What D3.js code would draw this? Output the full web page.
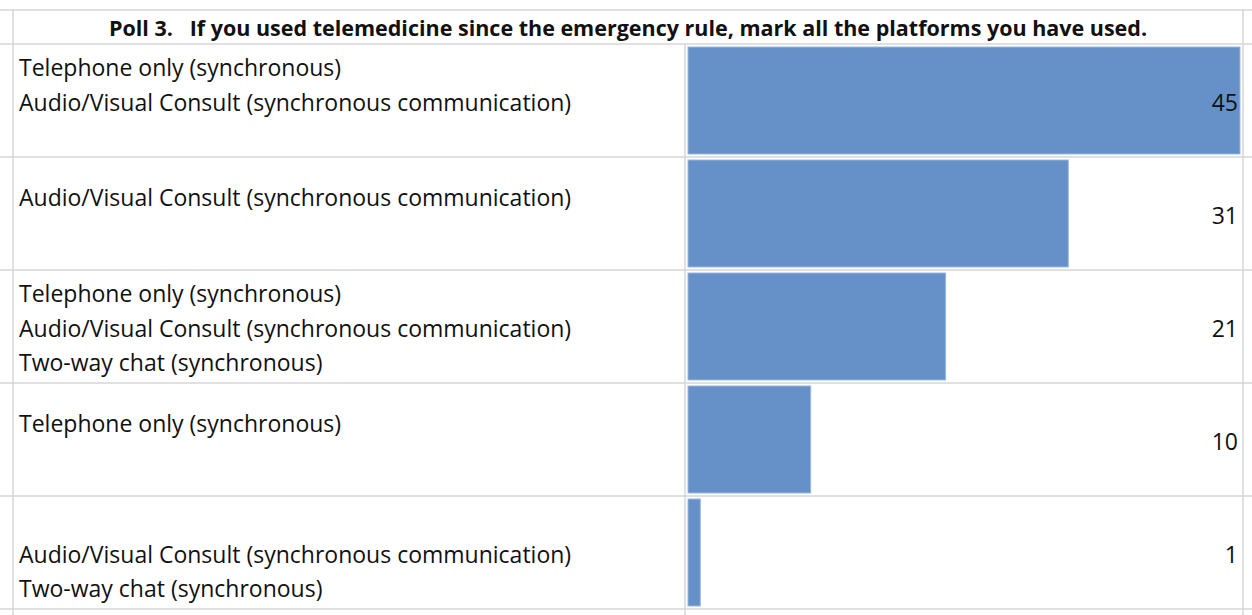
<!DOCTYPE html>
<html>
<head>
<meta charset="utf-8">
<script src="https://cdnjs.cloudflare.com/ajax/libs/d3/7.8.5/d3.min.js"></script>
<style>
  html, body { margin: 0; padding: 0; background: #fff; }
  svg { display: block; }
  text { font-family: "Open Sans", Lato, sans-serif; fill: #111; }
</style>
</head>
<body>
<svg id="chart" width="1252" height="615"></svg>
<script>
// Poll answers: each combination of platforms is one row (lines of the cell)
const title = "Poll 3.   If you used telemedicine since the emergency rule, mark all the platforms you have used.";
const answers = [
  ["Telephone only (synchronous)", "Audio/Visual Consult (synchronous communication)"],
  ["Audio/Visual Consult (synchronous communication)"],
  ["Telephone only (synchronous)", "Audio/Visual Consult (synchronous communication)", "Two-way chat (synchronous)"],
  ["Telephone only (synchronous)"],
  ["", "Audio/Visual Consult (synchronous communication)", "Two-way chat (synchronous)"]
];
const counts = [45, 31, 21, 10, 1];

// layout of the sheet grid
const W = 1252, H = 615;
const colLeft = 13, colMid = 685, colRight = 1243;
const topLine = 10, headerLine = 44, tableBottom = 609;
const lineStep = 34.5;
const leadOffset = [0, 0.5, 0, 0.5, 0]; // vertical nudge of each cell's text, in lines
const fontSize = 23;

const svg = d3.select("#chart");

const y = d3.scaleBand()
  .domain(d3.range(answers.length))
  .range([headerLine, tableBottom])
  .padding(0);

const x = d3.scaleLinear()
  .domain([0, d3.max(counts)])
  .range([colMid + 3, colRight - 3]);

const grid = svg.append("g").attr("stroke", "#d6d6d6").attr("stroke-width", 1.5);

// horizontal cell borders
const hLines = [topLine, headerLine].concat(answers.map((d, i) => y(i) + y.bandwidth()));
grid.selectAll("line.h").data(hLines).join("line")
  .attr("class", "h")
  .attr("x1", 0).attr("x2", W)
  .attr("y1", d => d).attr("y2", d => d);

// vertical cell borders (the title cell spans both columns)
grid.append("line").attr("x1", colLeft).attr("x2", colLeft).attr("y1", topLine).attr("y2", H);
grid.append("line").attr("x1", colMid).attr("x2", colMid).attr("y1", headerLine).attr("y2", H);
grid.append("line").attr("x1", colRight).attr("x2", colRight).attr("y1", topLine).attr("y2", H);

// title
svg.append("text")
  .attr("x", (colLeft + colRight) / 2)
  .attr("y", 27)
  .attr("text-anchor", "middle")
  .attr("dominant-baseline", "central")
  .attr("font-size", 21.5)
  .attr("font-weight", "bold")
  .style("white-space", "pre")
  .text(title);

// data bars
svg.append("g").selectAll("rect").data(counts).join("rect")
  .attr("x", x(0))
  .attr("y", (d, i) => y(i) + 3)
  .attr("width", d => x(d) - x(0))
  .attr("height", y.bandwidth() - 6)
  .attr("fill", "#6590c8")
  .attr("stroke", "#9ab7de")
  .attr("stroke-width", 1);

// value labels, right-aligned in the cell
svg.append("g").selectAll("text").data(counts).join("text")
  .attr("x", colRight - 5)
  .attr("y", (d, i) => y(i) + y.bandwidth() / 2 + 1)
  .attr("text-anchor", "end")
  .attr("dominant-baseline", "central")
  .attr("font-size", fontSize)
  .text(d => d);

// category labels
const labels = svg.append("g").selectAll("g").data(answers).join("g");
labels.each(function (lines, i) {
  d3.select(this).selectAll("text").data(lines).join("text")
    .attr("x", colLeft + 6)
    .attr("y", (d, j) => y(i) + 23 + (j + leadOffset[i]) * lineStep)
    .attr("dominant-baseline", "central")
    .attr("font-size", fontSize)
    .text(d => d);
});
</script>
</body>
</html>
